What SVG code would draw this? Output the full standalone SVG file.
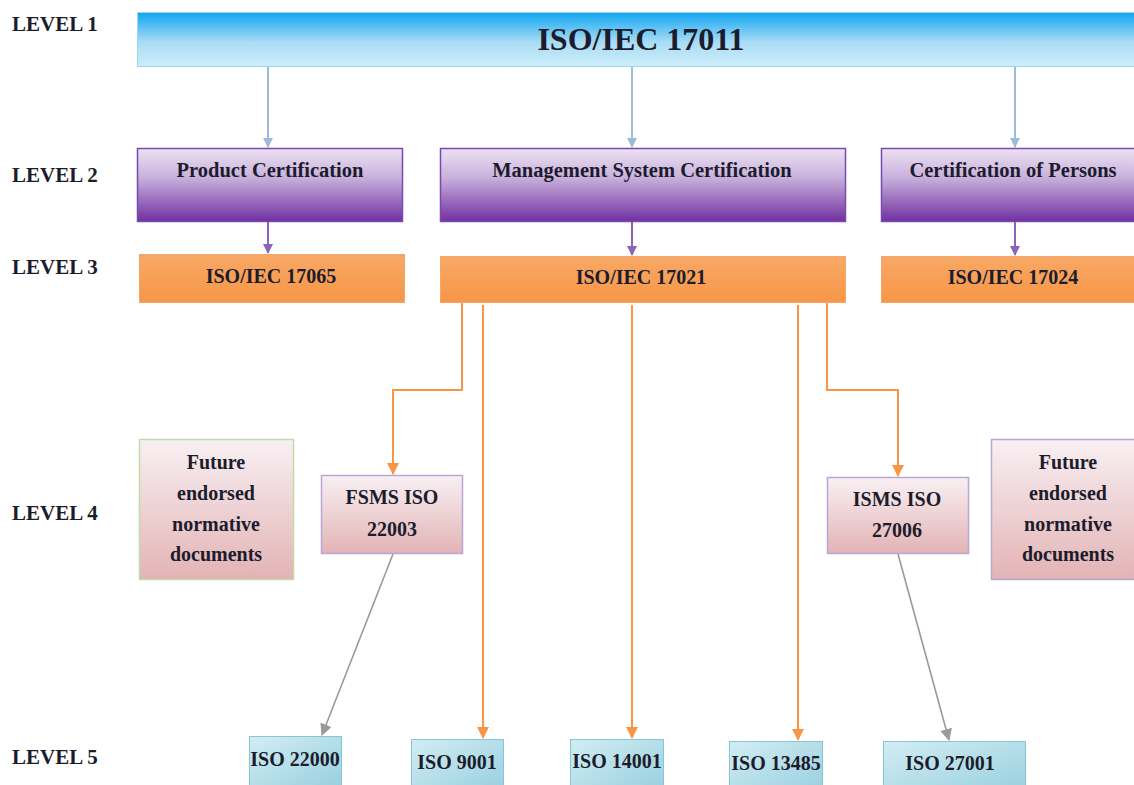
<svg xmlns="http://www.w3.org/2000/svg" width="1134" height="785" viewBox="0 0 1134 785">
<defs>
<linearGradient id="g1" x1="0" y1="0" x2="0" y2="1"><stop offset="0" stop-color="#10a6f2"/><stop offset="0.55" stop-color="#a9dcf5"/><stop offset="1" stop-color="#cdeefa"/></linearGradient>
<linearGradient id="g2" x1="0" y1="0" x2="0" y2="1"><stop offset="0" stop-color="#ece2f3"/><stop offset="0.4" stop-color="#c8b0dc"/><stop offset="1" stop-color="#7030a0"/></linearGradient>
<linearGradient id="g3" x1="0" y1="0" x2="0" y2="1"><stop offset="0" stop-color="#f8a866"/><stop offset="1" stop-color="#f79646"/></linearGradient>
<linearGradient id="g4" x1="0" y1="0" x2="0" y2="1"><stop offset="0" stop-color="#f8f0f3"/><stop offset="1" stop-color="#e3b3b5"/></linearGradient>
<linearGradient id="g5" x1="0" y1="0" x2="1" y2="1"><stop offset="0" stop-color="#d2edf4"/><stop offset="1" stop-color="#99d0df"/></linearGradient>
<marker id="ap" markerWidth="10" markerHeight="10" refX="9" refY="5" orient="auto" markerUnits="userSpaceOnUse" viewBox="0 0 10 10"><path d="M0,0 L10,5 L0,10 Z" fill="#8a64b8"/></marker>
<marker id="ao" markerWidth="12" markerHeight="12" refX="11" refY="6" orient="auto" markerUnits="userSpaceOnUse" viewBox="0 0 12 12"><path d="M0,0 L12,6 L0,12 Z" fill="#f79646"/></marker>
<marker id="ag" markerWidth="12" markerHeight="12" refX="11" refY="6" orient="auto" markerUnits="userSpaceOnUse" viewBox="0 0 12 12"><path d="M0,0 L12,6 L0,12 Z" fill="#9a9a9a"/></marker>
<marker id="abl" markerWidth="10" markerHeight="10" refX="9" refY="5" orient="auto" markerUnits="userSpaceOnUse" viewBox="0 0 10 10"><path d="M0,0 L10,5 L0,10 Z" fill="#9fbbdc"/></marker>
</defs>

<g id="level-labels" fill="#1c1c2c">
<text font-family="Liberation Serif" font-weight="bold" font-size="21" x="12" y="31">LEVEL 1</text>
<text font-family="Liberation Serif" font-weight="bold" font-size="21" x="12" y="182">LEVEL 2</text>
<text font-family="Liberation Serif" font-weight="bold" font-size="21" x="12" y="274">LEVEL 3</text>
<text font-family="Liberation Serif" font-weight="bold" font-size="21" x="12" y="520">LEVEL 4</text>
<text font-family="Liberation Serif" font-weight="bold" font-size="21" x="12" y="764">LEVEL 5</text>
</g>

<g id="connectors" fill="none" stroke-width="2">
<g stroke="#9fbbdc">
<line x1="268" y1="67" x2="268" y2="147" marker-end="url(#abl)"/>
<line x1="632" y1="67" x2="632" y2="147" marker-end="url(#abl)"/>
<line x1="1015" y1="67" x2="1015" y2="147" marker-end="url(#abl)"/>
</g>
<g stroke="#8a64b8">
<line x1="268" y1="222" x2="268" y2="253" marker-end="url(#ap)"/>
<line x1="632" y1="222" x2="632" y2="255" marker-end="url(#ap)"/>
<line x1="1015" y1="222" x2="1015" y2="255" marker-end="url(#ap)"/>
</g>
<g stroke="#f79646">
<polyline points="462,303 462,390 393,390 393,474" marker-end="url(#ao)"/>
<line x1="483" y1="305" x2="483" y2="738" marker-end="url(#ao)"/>
<line x1="632" y1="305" x2="632" y2="738" marker-end="url(#ao)"/>
<line x1="798" y1="305" x2="798" y2="740" marker-end="url(#ao)"/>
<polyline points="827,303 827,390 898,390 898,476" marker-end="url(#ao)"/>
</g>
<g stroke="#9a9a9a" stroke-width="1.6">
<line x1="393" y1="554" x2="322" y2="735" marker-end="url(#ag)"/>
<line x1="898" y1="554" x2="949" y2="740" marker-end="url(#ag)"/>
</g>
</g>

<g id="n-17011">
<rect x="137.5" y="12.5" width="1000" height="54" fill="url(#g1)" stroke="#9fd6ea" stroke-width="1"/>
<text font-family="Liberation Serif" font-weight="bold" font-size="32" fill="#1c1c2c" text-anchor="middle" x="641" y="50">ISO/IEC 17011</text>
</g>

<g id="n-product">
<rect x="137.5" y="148.5" width="265" height="73" fill="url(#g2)" stroke="#7a48b0" stroke-width="1.5"/>
<text font-family="Liberation Serif" font-weight="bold" font-size="20.5" fill="#1c1c2c" text-anchor="middle" x="270" y="177">Product Certification</text>
</g>
<g id="n-mgmt">
<rect x="440.5" y="148.5" width="405" height="73" fill="url(#g2)" stroke="#7a48b0" stroke-width="1.5"/>
<text font-family="Liberation Serif" font-weight="bold" font-size="20.5" fill="#1c1c2c" text-anchor="middle" x="642" y="177">Management System Certification</text>
</g>
<g id="n-persons">
<rect x="881.5" y="148.5" width="260" height="73" fill="url(#g2)" stroke="#7a48b0" stroke-width="1.5"/>
<text font-family="Liberation Serif" font-weight="bold" font-size="20.5" fill="#1c1c2c" text-anchor="middle" x="1013" y="177">Certification of Persons</text>
</g>

<g id="n-17065">
<rect x="139.5" y="254.5" width="265" height="48" fill="url(#g3)" stroke="#f5a66a" stroke-width="1"/>
<text font-family="Liberation Serif" font-weight="bold" font-size="20" fill="#1c1c2c" text-anchor="middle" x="271" y="283">ISO/IEC 17065</text>
</g>
<g id="n-17021">
<rect x="440.5" y="256.5" width="405" height="46" fill="url(#g3)" stroke="#f5a66a" stroke-width="1"/>
<text font-family="Liberation Serif" font-weight="bold" font-size="20" fill="#1c1c2c" text-anchor="middle" x="641" y="284">ISO/IEC 17021</text>
</g>
<g id="n-17024">
<rect x="881.5" y="256.5" width="260" height="46" fill="url(#g3)" stroke="#f5a66a" stroke-width="1"/>
<text font-family="Liberation Serif" font-weight="bold" font-size="20" fill="#1c1c2c" text-anchor="middle" x="1013" y="284">ISO/IEC 17024</text>
</g>

<g id="n-future-left">
<rect x="139.5" y="439.5" width="154" height="140" fill="url(#g4)" stroke="#c2dba4" stroke-width="1.5"/>
<text font-family="Liberation Serif" font-weight="bold" font-size="20" fill="#1c1c2c" text-anchor="middle" x="216" y="469">Future</text>
<text font-family="Liberation Serif" font-weight="bold" font-size="20" fill="#1c1c2c" text-anchor="middle" x="216" y="500">endorsed</text>
<text font-family="Liberation Serif" font-weight="bold" font-size="20" fill="#1c1c2c" text-anchor="middle" x="216" y="531">normative</text>
<text font-family="Liberation Serif" font-weight="bold" font-size="20" fill="#1c1c2c" text-anchor="middle" x="216" y="561">documents</text>
</g>
<g id="n-fsms">
<rect x="321.5" y="475.5" width="141" height="78" fill="url(#g4)" stroke="#b8a6d6" stroke-width="1.5"/>
<text font-family="Liberation Serif" font-weight="bold" font-size="20" fill="#1c1c2c" text-anchor="middle" x="392" y="504">FSMS ISO</text>
<text font-family="Liberation Serif" font-weight="bold" font-size="20" fill="#1c1c2c" text-anchor="middle" x="392" y="536">22003</text>
</g>
<g id="n-isms">
<rect x="827.5" y="477.5" width="141" height="76" fill="url(#g4)" stroke="#b8a6d6" stroke-width="1.5"/>
<text font-family="Liberation Serif" font-weight="bold" font-size="20" fill="#1c1c2c" text-anchor="middle" x="897" y="506">ISMS ISO</text>
<text font-family="Liberation Serif" font-weight="bold" font-size="20" fill="#1c1c2c" text-anchor="middle" x="897" y="537">27006</text>
</g>
<g id="n-future-right">
<rect x="991.5" y="439.5" width="150" height="140" fill="url(#g4)" stroke="#b8a6d6" stroke-width="1.5"/>
<text font-family="Liberation Serif" font-weight="bold" font-size="20" fill="#1c1c2c" text-anchor="middle" x="1068" y="469">Future</text>
<text font-family="Liberation Serif" font-weight="bold" font-size="20" fill="#1c1c2c" text-anchor="middle" x="1068" y="500">endorsed</text>
<text font-family="Liberation Serif" font-weight="bold" font-size="20" fill="#1c1c2c" text-anchor="middle" x="1068" y="531">normative</text>
<text font-family="Liberation Serif" font-weight="bold" font-size="20" fill="#1c1c2c" text-anchor="middle" x="1068" y="561">documents</text>
</g>

<g id="n-22000">
<rect x="249.5" y="736.5" width="92" height="50" fill="url(#g5)" stroke="#86c6d8" stroke-width="1"/>
<text font-family="Liberation Serif" font-weight="bold" font-size="20" fill="#1c1c2c" text-anchor="middle" x="295" y="766">ISO 22000</text>
</g>
<g id="n-9001">
<rect x="411.5" y="739.5" width="92" height="50" fill="url(#g5)" stroke="#86c6d8" stroke-width="1"/>
<text font-family="Liberation Serif" font-weight="bold" font-size="20" fill="#1c1c2c" text-anchor="middle" x="457" y="769">ISO 9001</text>
</g>
<g id="n-14001">
<rect x="570.5" y="739.5" width="93" height="50" fill="url(#g5)" stroke="#86c6d8" stroke-width="1"/>
<text font-family="Liberation Serif" font-weight="bold" font-size="20" fill="#1c1c2c" text-anchor="middle" x="617" y="768">ISO 14001</text>
</g>
<g id="n-13485">
<rect x="729.5" y="741.5" width="93" height="50" fill="url(#g5)" stroke="#86c6d8" stroke-width="1"/>
<text font-family="Liberation Serif" font-weight="bold" font-size="20" fill="#1c1c2c" text-anchor="middle" x="776" y="770">ISO 13485</text>
</g>
<g id="n-27001">
<rect x="883.5" y="741.5" width="142" height="50" fill="url(#g5)" stroke="#86c6d8" stroke-width="1"/>
<text font-family="Liberation Serif" font-weight="bold" font-size="20" fill="#1c1c2c" text-anchor="middle" x="950" y="770">ISO 27001</text>
</g>
</svg>
